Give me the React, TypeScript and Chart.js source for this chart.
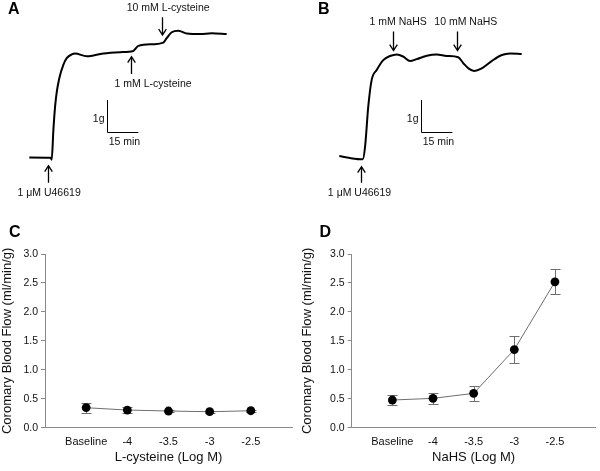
import React, { useEffect, useRef } from "react";
import { Chart, registerables } from "chart.js";

Chart.register(...registerables);

const FONT = "'Liberation Sans', Arial, Helvetica, sans-serif";
Chart.defaults.font.family = FONT;

// ---------- Panel A trace: time (min) vs tension (g) ----------
const traceATime = [0, 10.1, 10.6, 11.4, 12.2, 13.0, 14.2, 16.1, 17.7, 20.1, 21.6, 27.2, 35.0, 42.9, 49.2, 50.0, 51.6, 58.7, 63.4, 65.0, 67.4, 70.5, 74.5, 80.8, 86.3, 93.4];
const traceAForce = [0.04, 0.03, -0.03, 0.91, 1.64, 2.11, 2.54, 2.96, 3.17, 3.29, 3.32, 3.23, 3.32, 3.36, 3.4, 3.45, 3.56, 3.61, 3.66, 3.8, 3.99, 4.04, 3.95, 3.93, 3.96, 3.93];

// ---------- Panel B trace ----------
const traceBTime = [0, 5.1, 11.1, 12.2, 13.7, 15.3, 17.7, 20.8, 24.0, 27.2, 30.3, 33.5, 36.6, 41.4, 46.1, 50.8, 56.3, 58.7, 61.1, 63.8, 67.4, 72.1, 76.9, 80.8, 86.3];
const traceBForce = [0.085, 0.02, -0.02, 0.38, 1.64, 2.48, 2.8, 3.11, 3.24, 3.29, 3.22, 3.08, 3.14, 3.25, 3.29, 3.24, 3.2, 3.01, 2.85, 2.77, 2.85, 3.08, 3.27, 3.32, 3.3];

// ---------- Drug additions (arrows) ----------
const arrowsALabels = ["1 \u03bcM U46619", "1 mM L-cysteine", "10 mM L-cysteine"];
const arrowsATime = [8.7, 48.0, 62.9];
const arrowsATipForce = [-0.22, 3.22, 3.9];
const arrowsADir = ["up", "up", "down"];

const arrowsBLabels = ["1 \u03bcM U46619", "1 mM NaHS", "10 mM NaHS"];
const arrowsBTime = [10.3, 25.6, 55.6];
const arrowsBTipForce = [-0.25, 3.41, 3.41];
const arrowsBDir = ["up", "down", "down"];

// Scale bar: 1 g x 15 min
const scaleBarForce = 1;
const scaleBarMinutes = 15;

// ---------- Panels C and D ----------
const doseLabels = ["Baseline", "-4", "-3.5", "-3", "-2.5"];
const cysteineFlow = [0.345, 0.305, 0.288, 0.276, 0.293];
const cysteineErr = [0.09, 0.05, 0.02, 0.02, 0.02];
const nahsFlow = [0.478, 0.507, 0.593, 1.35, 2.52];
const nahsErr = [0.09, 0.1, 0.125, 0.23, 0.215];

// layout calibration for trace panels (pixels)
const PX_PER_MIN = 31.7 / 15;
const PX_PER_G = 31.7;
const TRACE_W = 300;
const TRACE_H = 215;
const TRACE_ZERO_Y = 158.7;

type ArrowLayout = { len: number; dx: number; dy: number };

const traceAnnotPlugin = {
  id: "traceAnnot",
  afterDatasetsDraw(chart: any, _args: any, opts: any) {
    const { ctx } = chart;
    const xs = chart.scales.x;
    const ys = chart.scales.y;
    ctx.save();
    ctx.strokeStyle = "#000";
    ctx.fillStyle = "#111";
    ctx.lineWidth = 1.3;
    ctx.font = `10.5px ${FONT}`;
    ctx.textAlign = "center";
    ctx.textBaseline = "middle";
    opts.labels.forEach((label: string, i: number) => {
      const lay: ArrowLayout = opts.layout[i];
      const x = Math.round(xs.getPixelForValue(opts.times[i])) + 0.5;
      const tip = ys.getPixelForValue(opts.tips[i]);
      const sgn = opts.dirs[i] === "up" ? 1 : -1;
      const tail = tip + sgn * lay.len;
      ctx.beginPath();
      ctx.moveTo(x, tip);
      ctx.lineTo(x, tail);
      ctx.moveTo(x - 3.8, tip + sgn * 6);
      ctx.lineTo(x, tip);
      ctx.lineTo(x + 3.8, tip + sgn * 6);
      ctx.stroke();
      ctx.fillText(label, x + lay.dx, tail + sgn * lay.dy);
    });
    // scale bar
    const sb = opts.scaleBar;
    const x0 = Math.round(xs.getPixelForValue(sb.t)) + 0.5;
    const y0 = Math.round(ys.getPixelForValue(sb.g)) + 0.5;
    const y1 = ys.getPixelForValue(sb.g + scaleBarForce);
    const x1 = xs.getPixelForValue(sb.t + scaleBarMinutes);
    ctx.lineWidth = 1;
    ctx.beginPath();
    ctx.moveTo(x0, y1);
    ctx.lineTo(x0, y0);
    ctx.lineTo(x1, y0);
    ctx.stroke();
    ctx.textAlign = "right";
    ctx.fillText("1g", x0 - 3, y0 - 13.5);
    ctx.textAlign = "center";
    ctx.fillText("15 min", (x0 + x1) / 2 + 1.5, y0 + 10);
    // panel letter
    ctx.font = `bold 16px ${FONT}`;
    ctx.textAlign = "left";
    ctx.textBaseline = "alphabetic";
    ctx.fillStyle = "#000";
    ctx.fillText(opts.letter.text, opts.letter.x, opts.letter.y);
    ctx.restore();
  },
};

function traceConfig(
  times: number[],
  forces: number[],
  originX: number,
  annot: any
) {
  return {
    type: "line",
    data: {
      datasets: [
        {
          data: times.map((t, i) => ({ x: t, y: forces[i] })),
          borderColor: "#000",
          borderWidth: 2,
          pointRadius: 0,
          cubicInterpolationMode: "monotone",
          fill: false,
        },
      ],
    },
    options: {
      responsive: false,
      animation: false,
      devicePixelRatio: 1,
      layout: { padding: 0 },
      plugins: {
        legend: { display: false },
        tooltip: { enabled: false },
        traceAnnot: annot,
      },
      scales: {
        x: {
          type: "linear",
          display: false,
          min: -originX / PX_PER_MIN,
          max: (TRACE_W - originX) / PX_PER_MIN,
        },
        y: {
          type: "linear",
          display: false,
          min: -(TRACE_H - TRACE_ZERO_Y) / PX_PER_G,
          max: TRACE_ZERO_Y / PX_PER_G,
        },
      },
    },
    plugins: [traceAnnotPlugin],
  };
}

const errorBarPlugin = {
  id: "errBars",
  beforeDatasetsDraw(chart: any, _args: any, opts: any) {
    const { ctx } = chart;
    const xs = chart.scales.x;
    const ys = chart.scales.y;
    ctx.save();
    ctx.strokeStyle = "#6e6e6e";
    ctx.lineWidth = 1;
    opts.values.forEach((v: number, i: number) => {
      const e = opts.errors[i];
      const x = Math.round(xs.getPixelForValue(i)) + 0.5;
      const yt = Math.round(ys.getPixelForValue(v + e)) + 0.5;
      const yb = Math.round(ys.getPixelForValue(v - e)) + 0.5;
      ctx.beginPath();
      ctx.moveTo(x, yt);
      ctx.lineTo(x, yb);
      ctx.moveTo(x - 5, yt);
      ctx.lineTo(x + 5, yt);
      ctx.moveTo(x - 5, yb);
      ctx.lineTo(x + 5, yb);
      ctx.stroke();
    });
    ctx.restore();
  },
  afterDraw(chart: any, _args: any, opts: any) {
    const { ctx } = chart;
    ctx.save();
    ctx.font = `bold 16px ${FONT}`;
    ctx.fillStyle = "#000";
    ctx.textAlign = "left";
    ctx.textBaseline = "alphabetic";
    ctx.fillText(opts.letter, opts.letterX, opts.letterY);
    ctx.restore();
  },
};

function doseConfig(
  values: number[],
  errors: number[],
  xTitle: string,
  letter: string,
  letterX: number,
  axisLeft: number,
  rightPad: number
) {
  return {
    type: "line",
    data: {
      datasets: [
        {
          data: values.map((v, i) => ({ x: i, y: v })),
          borderColor: "#6e6e6e",
          borderWidth: 1,
          pointRadius: 4.4,
          pointBackgroundColor: "#000",
          pointBorderColor: "#000",
          pointBorderWidth: 0,
          tension: 0,
          fill: false,
        },
      ],
    },
    options: {
      responsive: false,
      animation: false,
      devicePixelRatio: 1,
      layout: { padding: { top: 39, right: rightPad, bottom: 0, left: 0 } },
      plugins: {
        legend: { display: false },
        tooltip: { enabled: false },
        errBars: { values, errors, letter, letterX, letterY: 22 },
      },
      scales: {
        x: {
          type: "linear",
          min: -1,
          max: 5,
          afterBuildTicks: (s: any) => {
            s.ticks = doseLabels.map((_, i) => ({ value: i }));
          },
          ticks: {
            callback: (v: any) => doseLabels[v] ?? "",
            color: "#111",
            font: { size: 11 },
            padding: 0,
            maxRotation: 0,
            autoSkip: false,
          },
          grid: { display: false },
          border: { display: true, color: "#8a8a8a", width: 1 },
          title: {
            display: true,
            text: xTitle,
            color: "#111",
            font: { size: 13 },
            padding: { top: 0, bottom: 5.5 },
          },
          afterFit: (s: any) => {
            s.height = 43.3;
          },
        },
        y: {
          type: "linear",
          min: 0,
          max: 3,
          ticks: {
            stepSize: 0.5,
            callback: (v: any) => Number(v).toFixed(1),
            color: "#111",
            font: { size: 10.5 },
            padding: 3,
          },
          grid: {
            drawOnChartArea: false,
            drawTicks: true,
            tickLength: 4,
            color: "#8a8a8a",
          },
          border: { display: true, color: "#8a8a8a", width: 1 },
          title: {
            display: true,
            text: "Coromary Blood Flow (ml/min/g)",
            color: "#111",
            font: { size: 13 },
            padding: { top: 0, bottom: 0 },
          },
          afterFit: (s: any) => {
            s.width = axisLeft;
          },
        },
      },
    },
    plugins: [errorBarPlugin],
  };
}

function ChartCanvas(props: {
  config: any;
  left: number;
  top: number;
  width: number;
  height: number;
}) {
  const ref = useRef<HTMLCanvasElement>(null);
  useEffect(() => {
    const chart = new Chart(ref.current as HTMLCanvasElement, props.config);
    return () => chart.destroy();
  }, []);
  return (
    <canvas
      ref={ref}
      width={props.width}
      height={props.height}
      style={{
        position: "absolute",
        left: props.left,
        top: props.top,
        width: props.width,
        height: props.height,
      }}
    />
  );
}

const layoutA: ArrowLayout[] = [
  { len: 17, dx: 0.6, dy: 10.6 },
  { len: 17.3, dx: 21.6, dy: 10 },
  { len: 17.7, dx: 5.7, dy: 9 },
];
const layoutB: ArrowLayout[] = [
  { len: 16, dx: -2, dy: 10.6 },
  { len: 19, dx: 4.7, dy: 9 },
  { len: 19, dx: 8.3, dy: 9 },
];

export default function App() {
  const cfgA = traceConfig(traceATime, traceAForce, 29.3, {
    labels: arrowsALabels,
    times: arrowsATime,
    tips: arrowsATipForce,
    dirs: arrowsADir,
    layout: layoutA,
    scaleBar: { t: 36.6, g: 0.85 },
    letter: { text: "A", x: 8, y: 14 },
  });
  const cfgB = traceConfig(traceBTime, traceBForce, 39.3, {
    labels: arrowsBLabels,
    times: arrowsBTime,
    tips: arrowsBTipForce,
    dirs: arrowsBDir,
    layout: layoutB,
    scaleBar: { t: 38.5, g: 0.85 },
    letter: { text: "B", x: 18, y: 14 },
  });
  const cfgC = doseConfig(cysteineFlow, cysteineErr, "L-cysteine (Log M)", "C", 9, 45, 8);
  const cfgD = doseConfig(nahsFlow, nahsErr, "NaHS (Log M)", "D", 19.5, 51.7, 1.5);
  return (
    <div
      style={{
        position: "absolute",
        left: 0,
        top: 0,
        width: 600,
        height: 471,
        background: "#fff",
      }}
    >
      <ChartCanvas config={cfgA} left={0} top={0} width={300} height={215} />
      <ChartCanvas config={cfgB} left={300} top={0} width={300} height={215} />
      <ChartCanvas config={cfgC} left={0} top={215} width={300} height={256} />
      <ChartCanvas config={cfgD} left={300} top={215} width={300} height={256} />
    </div>
  );
}
